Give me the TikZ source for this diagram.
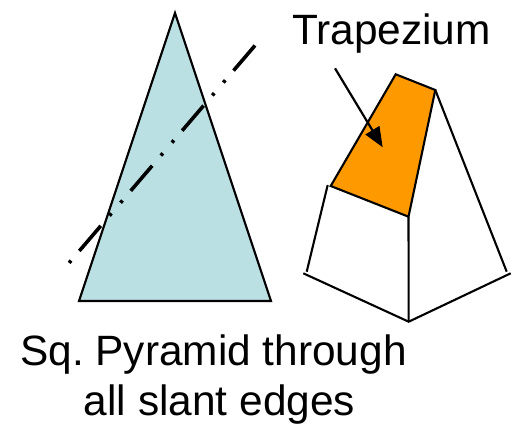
\documentclass[tikz,border=0pt]{standalone}
\usepackage{fontspec}
\setmainfont{Liberation Sans}
\usetikzlibrary{arrows.meta}
\definecolor{paleblue}{HTML}{BBE0E3}
\definecolor{trapfill}{HTML}{FF9900}
\tikzset{
  edge/.style={draw=black,line width=2.1pt,line join=miter},
  cutline/.style={draw=black,line width=3.6pt,dash pattern=on 33pt off 12.7pt on 3pt off 14pt on 3pt off 13.4pt},
  pointer/.style={draw=black,line width=2.2pt,-{Triangle[length=20pt,width=16pt]}},
  lbl/.style={anchor=base,inner sep=0pt,outer sep=0pt,font=\fontsize{42.4}{48}\selectfont}
}
\frenchspacing
\begin{document}
\begin{tikzpicture}[x=1pt,y=-1pt]
\useasboundingbox (0,0) rectangle (520,434);
% triangle
\coordinate (apex) at (175,13);
\coordinate (bl) at (79,301);
\coordinate (br) at (271,301);
\path[edge,fill=paleblue] (apex) -- (bl) -- (br) -- cycle;
\coordinate (cutA) at (255,45.5);
\coordinate (cutB) at (69,263);
\path[cutline] (cutA) -- (cutB);
% pyramid
\coordinate (t1) at (395.7,74.3);
\coordinate (t2) at (435.3,90);
\coordinate (m) at (408.5,216.7);
\coordinate (l) at (330.7,186);
\coordinate (l2) at (327.7,185);
\coordinate (bL) at (303.3,273.3);
\coordinate (bLi) at (306.7,271.7);
\coordinate (bF) at (408.7,321.7);
\coordinate (bR) at (510.7,273.3);
\coordinate (bRi) at (506.7,271.7);
\path[edge,fill=trapfill] (t1) -- (t2) -- (m) -- (l) -- cycle;
\path[edge] (l2) -- (bLi);
\path[edge] (bL) -- (bF) -- (bR);
\path[edge] (m) -- (bF);
\path[edge] (t2) -- (bRi);
\node[lbl] (title) at (391.5,44) {Trapezium};
\node[lbl] (cap1) at (213.5,365) {Sq. Pyramid through};
\node[lbl] (cap2) at (219.5,415) {all slant edges};
\coordinate (arrS) at (335,68.3);
\coordinate (arrE) at (382.7,147.3);
\path[pointer] (arrS) -- (arrE);
\end{tikzpicture}
\end{document}
